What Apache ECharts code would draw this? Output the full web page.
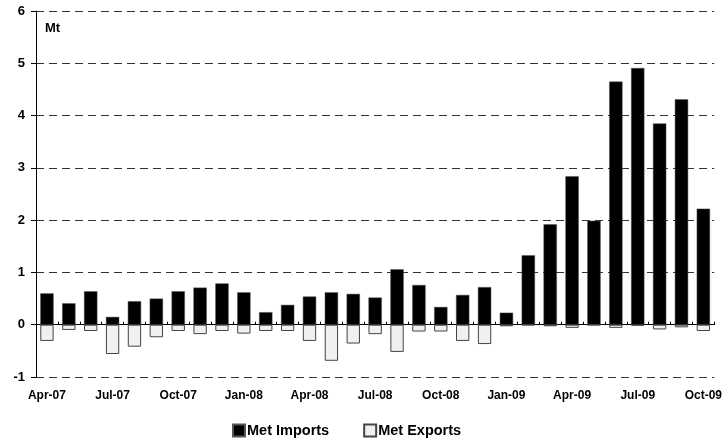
<!DOCTYPE html>
<html>
<head>
<meta charset="utf-8">
<script src="https://cdn.jsdelivr.net/npm/echarts@6/dist/echarts.min.js"></script>
<style>html,body{margin:0;padding:0;background:#fff}#c{width:725px;height:442px}</style>
</head>
<body>
<div id="c"></div>
<script>
const months = ['Apr-07','May-07','Jun-07','Jul-07','Aug-07','Sep-07','Oct-07','Nov-07','Dec-07',
  'Jan-08','Feb-08','Mar-08','Apr-08','May-08','Jun-08','Jul-08','Aug-08','Sep-08','Oct-08','Nov-08','Dec-08',
  'Jan-09','Feb-09','Mar-09','Apr-09','May-09','Jun-09','Jul-09','Aug-09','Sep-09','Oct-09'];
const metImports = [0.60,0.41,0.64,0.15,0.45,0.50,0.64,0.71,0.79,0.62,0.24,0.38,0.54,0.62,0.59,
  0.52,1.06,0.76,0.34,0.57,0.72,0.23,1.33,1.92,2.84,1.99,4.65,4.91,3.85,4.31,2.22];
const metExports = [-0.31,-0.10,-0.12,-0.56,-0.42,-0.24,-0.12,-0.18,-0.12,-0.17,-0.12,-0.12,-0.31,-0.69,-0.36,
  -0.18,-0.52,-0.13,-0.13,-0.31,-0.37,-0.03,-0.01,-0.03,-0.06,-0.01,-0.06,-0.02,-0.09,-0.05,-0.12];
const yTicks = {min:-1, max:6, interval:1};

const chart = echarts.init(document.getElementById('c'), null, {renderer:'canvas'});
const font = 'Arial, "Liberation Sans", sans-serif';
chart.setOption({
  animation: false,
  textStyle: {fontFamily: font},
  grid: {left: 36, right: 8, top: 11, bottom: 65, containLabel: false},
  legend: {
    top: 418, left: 227,
    itemWidth: 12, itemHeight: 12, itemGap: 34,
    textStyle: {fontFamily: font, fontWeight: 'bold', fontSize: 14.5, color: '#000', padding: [0,0,0,-3]},
    data: [{name:'Met Imports', icon:'rect'}, {name:'Met Exports', icon:'rect'}]
  },
  xAxis: [{
    type: 'category', data: months, position: 'bottom',
    axisLine: {show: false, onZero: false}, axisTick: {show: false},
    axisLabel: {interval: 2, fontFamily: font, fontWeight: 'bold', fontSize: 12, color: '#000', margin: 13}
  }, {
    type: 'category', data: months,
    axisLine: {show: true, onZero: true, lineStyle: {color: '#000', width: 1}},
    axisTick: {show: true, interval: 0, length: 3, inside: false, lineStyle: {color: '#000'}},
    axisLabel: {show: false}
  }],
  yAxis: {
    type: 'value', min: yTicks.min, max: yTicks.max, interval: yTicks.interval,
    name: 'Mt', nameLocation: 'end', nameGap: -24,
    nameTextStyle: {fontFamily: font, fontWeight: 'bold', fontSize: 13, color: '#000', align: 'left', padding: [0,0,0,9]},
    axisLine: {show: true, lineStyle: {color: '#000', width: 1}},
    axisTick: {show: true, length: 5, lineStyle: {color: '#000'}},
    axisLabel: {fontFamily: font, fontWeight: 'bold', fontSize: 13, color: '#000', margin: 11},
    splitLine: {show: true, lineStyle: {color: '#333', type: [8,5], width: 1}}
  },
  series: [{
    name: 'Met Imports', type: 'bar', data: metImports, barWidth: '61%', barGap: '-100%',
    itemStyle: {color: '#000', borderColor: '#555', borderWidth: 0.5}
  }, {
    name: 'Met Exports', type: 'bar', data: metExports, barWidth: '61%', barGap: '-100%',
    itemStyle: {color: '#f0f0f0', borderColor: '#444', borderWidth: 1}
  }]
});
</script>
</body>
</html>
